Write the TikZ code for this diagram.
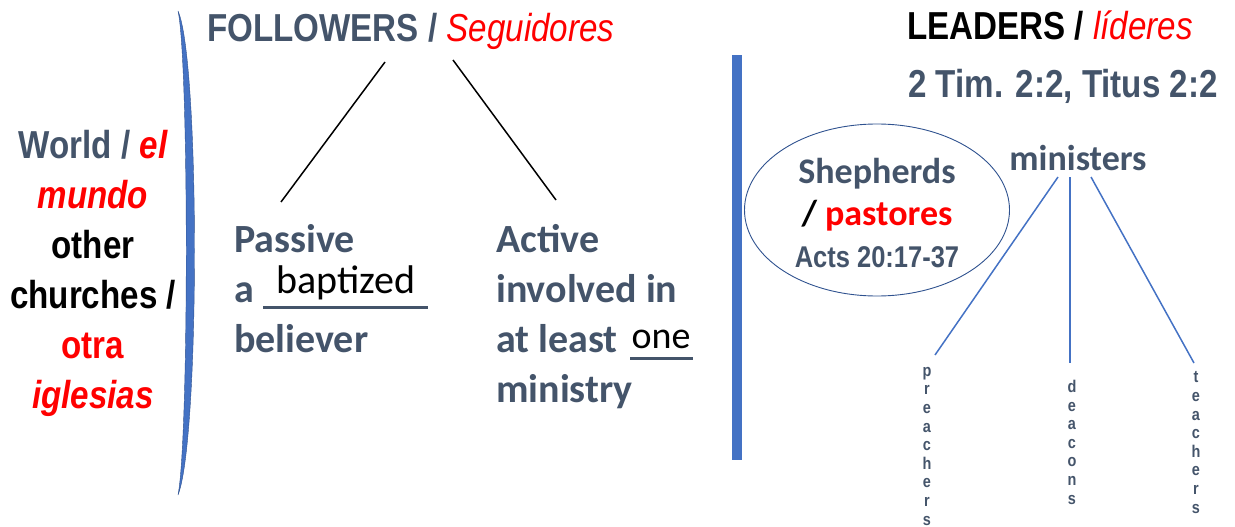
\documentclass[tikz,border=0pt]{standalone}
\usepackage{fontspec}
\setmainfont[FakeStretch=0.85]{Liberation Sans}
\newfontfamily\calibri{Carlito}
\usepackage{tikz}
\usetikzlibrary{positioning,calc,shapes.geometric}
\definecolor{slate}{HTML}{44546A}
\definecolor{hotred}{HTML}{FF0000}
\definecolor{barblue}{HTML}{4472C4}
\definecolor{ringblue}{HTML}{2F528F}

\begin{document}
\begin{tikzpicture}[x=1pt, y=-1pt,
  head/.style={inner sep=0, anchor=base west, font=\bfseries\fontsize{39}{39}\selectfont},
  words/.style={inner sep=0, anchor=base west, align=left, text=slate, font=\calibri\bfseries\fontsize{40}{50}\selectfont},
  fillin/.style={inner sep=0, anchor=base, font=\calibri\fontsize{40}{40}\selectfont},
  blank/.style={slate, line width=3pt},
  stack/.style={inner sep=0, anchor=base, align=center, text=slate, font=\bfseries\fontsize{17}{18.6}\selectfont},
  split/.style={black, line width=1.5pt},
  branch/.style={barblue, line width=1.5pt}
]
\useasboundingbox (0,0) rectangle (1235,527);

% left side: the world (base = last line)
\node[inner sep=0, anchor=base, align=center, font=\bfseries\fontsize{39}{50}\selectfont] (world) at (93,408)
  {\textcolor{slate}{World /} \textcolor{hotred}{\itshape el}\\
   \textcolor{hotred}{\itshape mundo}\\
   other\\
   churches /\\
   \textcolor{hotred}{otra}\\
   \textcolor{hotred}{\itshape iglesias}};
\fill[barblue, draw=ringblue, line width=0.4pt] (178,11) .. controls (200,60) and (200,440) .. (178,495)
  .. controls (189,440) and (189,60) .. (178,11);

% followers
\node[head, text=slate] (followers) at (207,42) {FOLLOWERS / \textcolor{hotred}{\mdseries\itshape Seguidores}};
\node[words] (passive) at (234,352) {Passive\\a\\believer};
\node[fillin] (baptized) at (346,293) {baptized};
\draw[blank] (263,307) -- (428,307);
\node[words] (active) at (496,402) {Active\\involved in\\at least\\ministry};
\node[fillin, font=\calibri\fontsize{38}{38}\selectfont] (one) at (661,348) {one};
\draw[blank] (630,358) -- (693,358);

\coordinate (fl) at (385,62);
\coordinate (fr) at (453,60);
\coordinate (pl) at (281,202);
\coordinate (ar) at (556,200);
\draw[split] (fl) -- (pl);
\draw[split] (fr) -- (ar);

% divider
\fill[barblue] (732,55) rectangle (742,460);

% leaders
\node[head] (leaders) at (907,40) {LEADERS / \textcolor{hotred}{\mdseries\itshape líderes}};
\node[head, text=slate] (refs) at (908,97) {2 Tim. 2:2, Titus 2:2};

\node[draw=ringblue, line width=0.9pt, ellipse, minimum width=265pt, minimum height=172pt, inner sep=0] (shepherds) at (877,210) {};
\node[inner sep=0, anchor=base, text=slate, font=\calibri\bfseries\fontsize{36}{36}\selectfont] (shep) at (877,183) {Shepherds};
\node[inner sep=0, anchor=base, font=\calibri\bfseries\fontsize{36}{36}\selectfont] (pastores) at (877,225) {/ \textcolor{hotred}{pastores}};
\node[inner sep=0, anchor=base, text=slate, font=\bfseries\fontsize{30}{30}\selectfont] (acts) at (877,267) {Acts 20:17-37};

\node[inner sep=0, anchor=base, text=slate, font=\calibri\bfseries\fontsize{36}{36}\selectfont] (ministers) at (1078,170) {ministers};
\node[stack] (preachers) at (927,525) {p\\r\\e\\a\\c\\h\\e\\r\\s};
\node[stack] (deacons) at (1072,504) {d\\e\\a\\c\\o\\n\\s};
\node[stack] (teachers) at (1196,513) {t\\e\\a\\c\\h\\e\\r\\s};

\coordinate (m1) at (1058,177);
\coordinate (m2) at (1070,177);
\coordinate (m3) at (1091,177);
\coordinate (p1) at (935,355);
\coordinate (d1) at (1070,363);
\coordinate (t1) at (1194,363);
\draw[branch] (m1) -- (p1);
\draw[branch] (m2) -- (d1);
\draw[branch] (m3) -- (t1);
\end{tikzpicture}
\end{document}
